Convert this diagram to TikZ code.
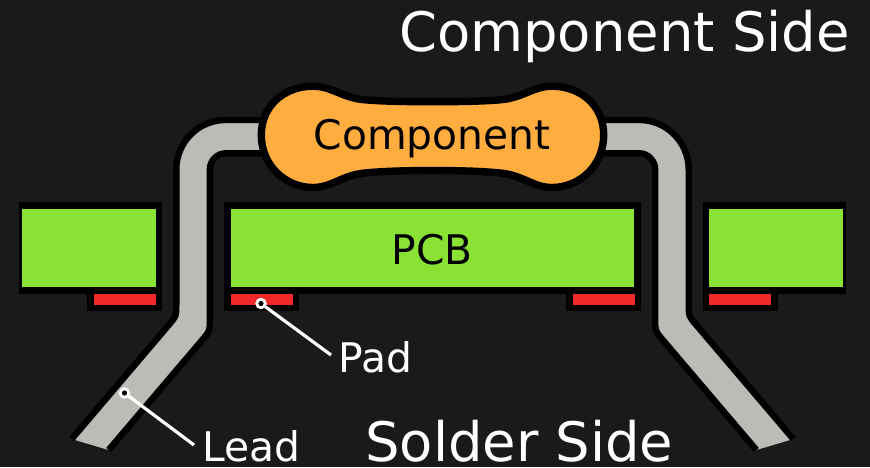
\documentclass[tikz,border=0pt]{standalone}
\usepackage{fontspec}
\setmainfont{DejaVu Sans}
\definecolor{backdrop}{HTML}{1A1A1A}
\definecolor{pcbgreen}{HTML}{8AE234}
\definecolor{padred}{HTML}{EF2929}
\definecolor{leadgrey}{HTML}{BABDB6}
\definecolor{bodyorange}{HTML}{FFAD3F}
\begin{document}
\begin{tikzpicture}[x=1pt,y=-1pt,
  lead/.style={draw=black,fill=leadgrey,line width=6.4pt},
  mirrored/.style={xshift=865pt,xscale=-1},
  dot/.style={circle,draw=white,fill=black,line width=2.8pt,inner sep=0pt,minimum size=8.5pt},
  leader/.style={white,line width=3.2pt},
  label/.style={anchor=base west,inner sep=0pt,font=\fontsize{40.8}{40.8}\selectfont}]
\useasboundingbox (0,0) rectangle (870,467);
\fill [backdrop] (0,0) rectangle (870,467);
\fill [black] (19,202) rectangle (162,294);
\fill [pcbgreen] (22,208.7) rectangle (156,287.3);
\fill [black] (224,202) rectangle (640.7,294);
\fill [pcbgreen] (230.7,208.7) rectangle (634.3,287.3);
\fill [black] (702.7,202) rectangle (846,294);
\fill [pcbgreen] (709.3,208.7) rectangle (843.3,287.3);
\foreach \x in {87,224,566,702.7} {
  \fill [black] (\x,290) rectangle ({\x+75},311);
  \fill [padred] ({\x+6.6},294) rectangle ({\x+68.6},304.5);
}
\draw [lead] (71.7,439) -- (169.2,324.4) .. controls (176.3,316) .. (176.3,305) -- (176.3,169.5)
  .. controls (176.3,142.3) and (198.3,120) .. (225.5,120) -- (280,120) -- (280,153.3) -- (225.5,153.3)
  .. controls (216.9,153.3) and (209.8,160.9) .. (209.8,169.5) -- (209.8,320)
  .. controls (209.8,331) .. (202.7,339.4) -- (108.6,450);
\begin{scope}[mirrored]
\draw [lead] (71.7,439) -- (169.2,324.4) .. controls (176.3,316) .. (176.3,305) -- (176.3,169.5)
  .. controls (176.3,142.3) and (198.3,120) .. (225.5,120) -- (280,120) -- (280,153.3) -- (225.5,153.3)
  .. controls (216.9,153.3) and (209.8,160.9) .. (209.8,169.5) -- (209.8,320)
  .. controls (209.8,331) .. (202.7,339.4) -- (108.6,450);
\end{scope}
\draw [fill=bodyorange,line width=7.4pt] (261.3,135)
  .. controls (261.3,105) and (285,86.2) .. (313,86.2)
  .. controls (332,86.2) and (342,98) .. (365,99.8)
  .. controls (385,101.5) and (410,101.7) .. (432.5,101.7)
  .. controls (455,101.7) and (480,101.5) .. (500,99.8)
  .. controls (523,98) and (533,86.2) .. (552,86.2)
  .. controls (580,86.2) and (603.7,105) .. (603.7,135)
  .. controls (603.7,165) and (580,187.5) .. (552,187.5)
  .. controls (533,187.5) and (523,175) .. (500,173)
  .. controls (480,171) and (455,170.5) .. (432.5,170.5)
  .. controls (410,170.5) and (385,171) .. (365,173)
  .. controls (342,175) and (332,187.5) .. (313,187.5)
  .. controls (285,187.5) and (261.3,165) .. (261.3,135) -- cycle;
\node [anchor=base east,inner sep=0pt,white,font=\fontsize{54.4}{54.4}\selectfont] (compside) at (850,51) {Component Side};
\node [anchor=base,inner sep=0pt,font=\fontsize{40.8}{40.8}\selectfont] (comp) at (432,149) {Component};
\node [anchor=base,inner sep=0pt,font=\fontsize{40.8}{40.8}\selectfont] (pcb) at (432,264) {PCB};
\node [label,white] (padname) at (338,372) {Pad};
\node [label,white] (leadname) at (202,461.7) {Lead};
\node [anchor=base west,inner sep=0pt,white,font=\fontsize{54.4}{54.4}\selectfont] (solderside) at (365,461.7) {Solder Side};
\node [dot] (paddot) at (261,303.5) {};
\node [dot] (leaddot) at (124.5,393) {};
\coordinate (padend) at (331,355);
\coordinate (leadend) at (194,445);
\draw [leader] (paddot) -- (padend);
\draw [leader] (leaddot) -- (leadend);
\end{tikzpicture}
\end{document}
